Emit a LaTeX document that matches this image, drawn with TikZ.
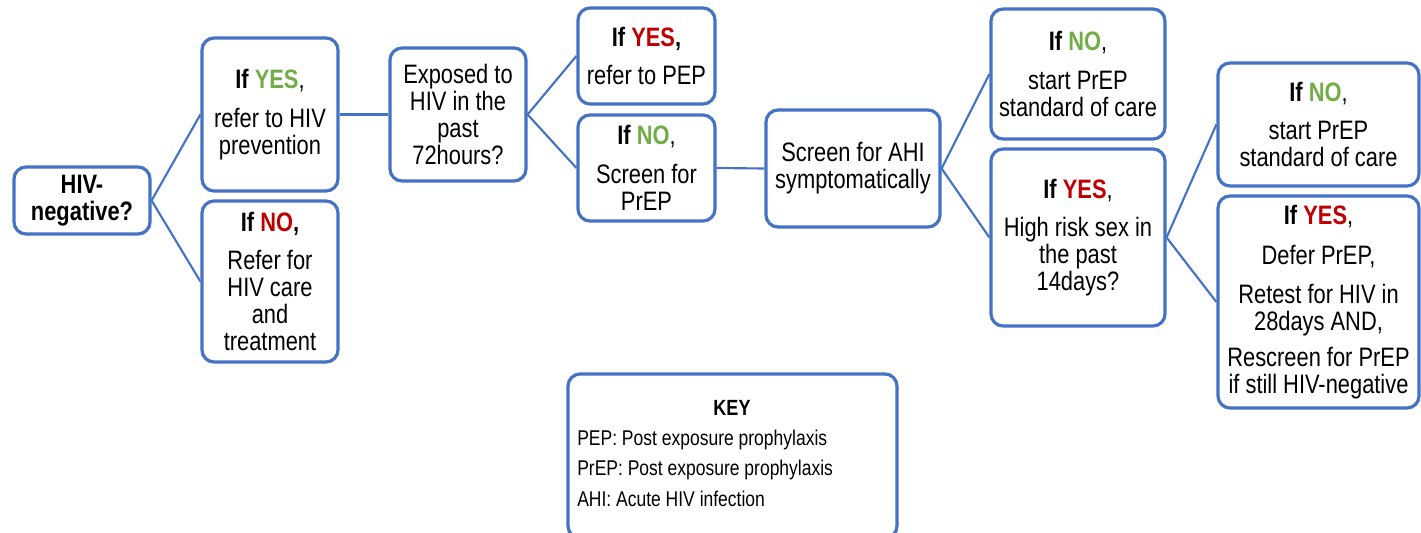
\documentclass[tikz,border=0pt]{standalone}
\usepackage{fontspec}
\setmainfont{Liberation Sans}[FakeStretch=0.82]
\definecolor{boxblue}{HTML}{4472C4}
\definecolor{yesgreen}{HTML}{70AD47}
\definecolor{nored}{HTML}{C00000}
\newcommand{\gy}[1]{\textbf{\textcolor{yesgreen}{#1}}}
\newcommand{\rd}[1]{\textbf{\textcolor{nored}{#1}}}
\begin{document}
\begin{tikzpicture}[x=0.75pt,y=-0.75pt,
  box/.style={draw=boxblue,line width=2.4pt,rounded corners=9pt,rectangle,
    inner sep=0pt,align=center,font=\fontsize{20}{20.25}\selectfont},
  keyline/.style={anchor=base west,inner sep=0pt,font=\fontsize{16}{18}\selectfont},
  link/.style={draw=boxblue,line width=1.6pt}]
\clip (0,0) rectangle (1421,532);
\useasboundingbox (0,0) rectangle (1421,532);
\node[box,minimum width=136*0.75pt,minimum height=67*0.75pt] (hiv) at (82,200.5) {\textbf{HIV-}\\\textbf{negative?}};
\node[box,minimum width=136*0.75pt,minimum height=153*0.75pt] (prev) at (270,114.5) {\textbf{If} \gy{YES},\\[8.5pt]refer to HIV\\prevention};
\node[box,minimum width=136*0.75pt,minimum height=161*0.75pt] (care) at (270,281.5) {\textbf{If} \rd{NO}\textbf{,}\\[8.5pt]Refer for\\HIV care\\and\\treatment};
\node[box,minimum width=136*0.75pt,minimum height=133*0.75pt] (exp) at (458,114.5) {Exposed to\\HIV in the\\past\\72hours?};
\node[box,minimum width=137*0.75pt,minimum height=96*0.75pt] (pep) at (646.5,56) {\textbf{If} \rd{YES}\textbf{,}\\[8.5pt]refer to PEP};
\node[box,minimum width=137*0.75pt,minimum height=106*0.75pt] (scr) at (646.5,168) {\textbf{If} \gy{NO},\\[8.5pt]Screen for\\PrEP};
\node[box,minimum width=174*0.75pt,minimum height=117*0.75pt] (ahi) at (853,168.5) {Screen for AHI\\symptomatically};
\node[box,minimum width=174*0.75pt,minimum height=130*0.75pt] (st1) at (1078,74) {\textbf{If} \gy{NO},\\[8.5pt]start PrEP\\standard of care};
\node[box,minimum width=174*0.75pt,minimum height=177*0.75pt] (hr) at (1078,237.5) {\textbf{If} \rd{YES},\\[8.5pt]High risk sex in\\the past\\14days?};
\node[box,minimum width=201*0.75pt,minimum height=123*0.75pt] (st2) at (1318.5,124.5) {\textbf{If} \gy{NO},\\[8.5pt]start PrEP\\standard of care};
\node[box,minimum width=201*0.75pt,minimum height=212*0.75pt] (def) at (1318.5,302) {\textbf{If} \rd{YES},\\[9.5pt]Defer PrEP,\\[9.5pt]Retest for HIV in\\28days AND,\\[6.5pt]Rescreen for PrEP\\if still HIV-negative};
\node[box,minimum width=329*0.75pt,minimum height=164*0.75pt] (key) at (732.5,456) {};
\node[anchor=base,inner sep=0pt,font=\fontsize{16.5}{18}\selectfont\bfseries] (keyttl) at (732,415) {KEY};
\node[keyline] (keyl1) at (577,445) {PEP: Post exposure prophylaxis};
\node[keyline] (keyl2) at (577,475) {PrEP: Post exposure prophylaxis};
\node[keyline] (keyl3) at (577,506) {AHI: Acute HIV infection};
\draw[link] (hiv.east) -- (prev.west);
\draw[link] (hiv.east) -- (care.west);
\draw[link] (prev.east) -- (exp.west);
\draw[link] (exp.east) -- (pep.west);
\draw[link] (exp.east) -- (scr.west);
\draw[link] (scr.east) -- (ahi.west);
\draw[link] (ahi.east) -- (st1.west);
\draw[link] (ahi.east) -- (hr.west);
\draw[link] (hr.east) -- (st2.west);
\draw[link] (hr.east) -- (def.west);
\end{tikzpicture}
\end{document}
